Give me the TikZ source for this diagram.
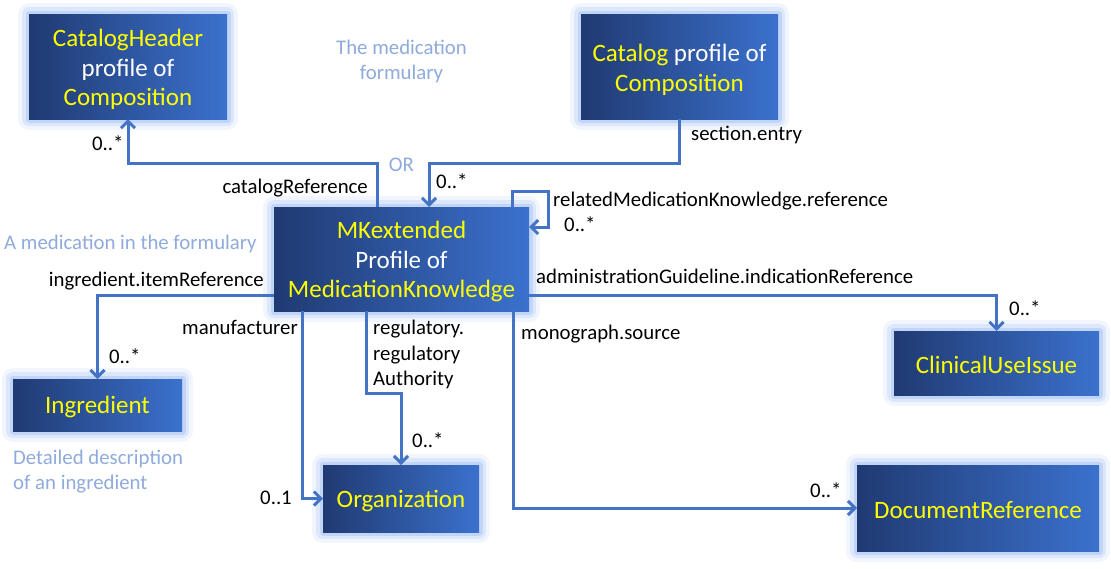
\documentclass[tikz,border=0pt]{standalone}
\usepackage{fontspec}
\setmainfont{Carlito}
\usetikzlibrary{arrows.meta}
\definecolor{linec}{HTML}{4472C4}
\definecolor{boxL}{HTML}{203A72}
\definecolor{boxR}{HTML}{3B71CD}
\definecolor{glowc}{HTML}{9CBDF6}
\definecolor{notec}{HTML}{8FAADC}
\definecolor{ytext}{HTML}{FFFF00}
\tikzset{
 box/.style={rectangle, inner sep=0pt, outer sep=0pt, left color=boxL, right color=boxR,
   preaction={draw=glowc, draw opacity=0.14, line width=22pt, line join=round},
   preaction={draw=glowc, draw opacity=0.24, line width=14pt, line join=round},
   preaction={draw=glowc, draw opacity=0.42, line width=7pt, line join=round}},
 boxtext/.style={inner sep=0pt, align=center, text=white, font=\fontsize{25}{29.5}\selectfont},
 lbl/.style={inner sep=0pt, font=\fontsize{20.8}{25.5}\selectfont, text=black},
 note/.style={inner sep=0pt, font=\fontsize{20.8}{25}\selectfont, text=notec},
 conn/.style={draw=linec, line width=3pt, -{Straight Barb[length=7pt,width=14pt]}},
}
\newcommand{\yl}[1]{\textcolor{ytext}{#1}}
\begin{document}
\begin{tikzpicture}[x=1pt,y=-1pt]
\path[use as bounding box, fill=white] (0,0) rectangle (1111,568);
% boxes
\node[box, minimum width=198pt, minimum height=105pt] (ch) at (128,66.5) {};
\node[box, minimum width=197pt, minimum height=105pt] (cat) at (679.5,66.5) {};
\node[box, minimum width=255pt, minimum height=104pt] (mk) at (401.5,259) {};
\node[box, minimum width=169pt, minimum height=52pt] (ing) at (97.5,405) {};
\node[box, minimum width=156pt, minimum height=67pt] (org) at (401,498.5) {};
\node[box, minimum width=205pt, minimum height=64pt] (cui) at (996.5,363) {};
\node[box, minimum width=242pt, minimum height=86pt] (doc) at (978,508) {};
% box texts
\node[boxtext] (cht) at ([yshift=-3pt]ch.center) {\yl{CatalogHeader}\\profile of\\\yl{Composition}};
\node[boxtext] (catt) at ([yshift=-3.5pt]cat.center) {\yl{Catalog} profile of\\\yl{Composition}};
\node[boxtext] (mkt) at ([yshift=-2.5pt]mk.center) {\yl{MKextended}\\Profile of\\\yl{MedicationKnowledge}};
\node[boxtext] (ingt) at ([yshift=-2pt]ing.center) {\yl{Ingredient}};
\node[boxtext] (orgt) at ([yshift=-2pt]org.center) {\yl{Organization}};
\node[boxtext] (cuit) at ([yshift=-2pt]cui.center) {\yl{ClinicalUseIssue}};
\node[boxtext] (doct) at ([yshift=-2pt]doc.center) {\yl{DocumentReference}};
% connectors
\draw[conn] ([xshift=-24.5pt]mk.north) -- ++(0,-44) -| (ch.south);
\draw[conn] (cat.south) -- ++(0,44) -| ([xshift=27.5pt]mk.north);
\draw[conn] ([xshift=110.5pt]mk.north) -- ++(0,-16) -- ++(36,0) |- ([yshift=32pt]mk.east);
\draw[conn] ([yshift=-36pt]mk.west) -| (ing.north);
\draw[conn] ([yshift=-36pt]mk.east) -| (cui.north);
\draw[conn] ([xshift=-99.5pt]mk.south) |- (org.west);
\draw[conn] ([xshift=-35.5pt]mk.south) -- ++(0,82) -| (org.north);
\draw[conn] ([xshift=112pt]mk.south) |- (doc.west);
% labels
\node[lbl, anchor=mid west] (l1) at (92,148) {0..*};
\node[lbl, anchor=mid east] (l2) at (368,191.5) {catalogReference};
\node[lbl, anchor=mid west] (l3) at (691,138.5) {section.entry};
\node[lbl, anchor=mid west] (l4) at (436,186.5) {0..*};
\node[lbl, anchor=mid west] (l5) at (553,204.5) {relatedMedicationKnowledge.reference};
\node[lbl, anchor=mid west] (l6) at (564,229) {0..*};
\node[lbl, anchor=mid east] (l7) at (264,284.5) {ingredient.itemReference};
\node[lbl, anchor=mid west] (l8) at (536,281.5) {administrationGuideline.indicationReference};
\node[lbl, anchor=mid west] (l9) at (109,361.5) {0..*};
\node[lbl, anchor=mid east] (l10) at (298,332.5) {manufacturer};
\node[lbl, anchor=west, align=left] (l11) at (373,354.5) {regulatory.\\regulatory\\Authority};
\node[lbl, anchor=mid west] (l12) at (412,445.5) {0..*};
\node[lbl, anchor=mid east] (l13) at (292,502.5) {0..1};
\node[lbl, anchor=mid west] (l14) at (1009,313.5) {0..*};
\node[lbl, anchor=mid west] (l15) at (521,337.5) {monograph.source};
\node[lbl, anchor=mid west] (l16) at (810,495.5) {0..*};
% notes
\node[note, align=center] (n1) at (401.5,61.5) {The medication\\formulary};
\node[note, anchor=mid] (n2) at (401.5,169.5) {OR};
\node[note, anchor=mid west] (n3) at (4,247.5) {A medication in the formulary};
\node[note, anchor=west, align=left] (n4) at (13,471.5) {Detailed description\\of an ingredient};
\end{tikzpicture}
\end{document}
